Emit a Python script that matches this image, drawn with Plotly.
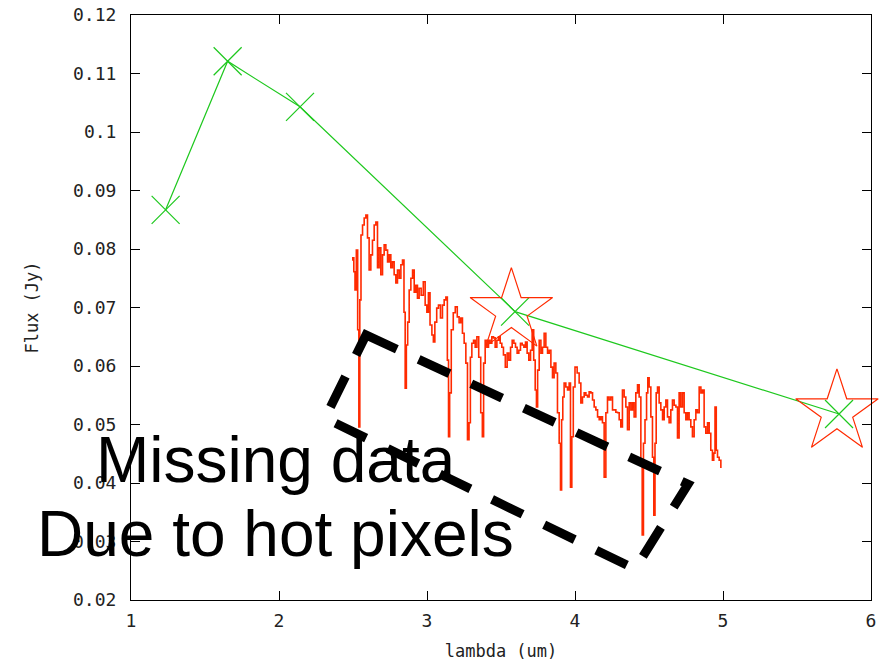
import plotly.graph_objects as go

# ---- data ----
phot_lambda = [1.234, 1.653, 2.142, 3.595, 5.784]
phot_flux = [0.0867, 0.1121, 0.1043, 0.0693, 0.0518]

irac_lambda = [3.57, 5.77]
irac_flux = [0.0694, 0.0521]

spec_lambda = [
    2.495, 2.502, 2.509, 2.518, 2.527, 2.536, 2.543, 2.549, 2.559, 2.570,
    2.581, 2.593, 2.603, 2.615, 2.626, 2.637, 2.649, 2.660, 2.671, 2.682,
    2.694, 2.705, 2.716, 2.728, 2.739, 2.750, 2.761, 2.772, 2.784, 2.795,
    2.806, 2.818, 2.829, 2.840, 2.849, 2.856, 2.865, 2.874, 2.885, 2.897,
    2.908, 2.919, 2.930, 2.941, 2.953, 2.968, 2.982, 2.993, 3.005, 3.014,
    3.027, 3.039, 3.047, 3.059, 3.072, 3.083, 3.099, 3.110, 3.122, 3.133,
    3.142, 3.149, 3.157, 3.171, 3.184, 3.198, 3.211, 3.223, 3.234, 3.245,
    3.257, 3.268, 3.279, 3.289, 3.297, 3.309, 3.320, 3.331, 3.343, 3.356,
    3.370, 3.378, 3.387, 3.399, 3.410, 3.421, 3.432, 3.444, 3.455, 3.466,
    3.478, 3.489, 3.500, 3.511, 3.522, 3.536, 3.547, 3.559, 3.570, 3.581,
    3.593, 3.603, 3.615, 3.626, 3.637, 3.649, 3.660, 3.671, 3.682, 3.694,
    3.705, 3.716, 3.726, 3.736, 3.743, 3.752, 3.764, 3.775, 3.786, 3.797,
    3.809, 3.820, 3.831, 3.843, 3.853, 3.865, 3.876, 3.887, 3.899, 3.905,
    3.914, 3.921, 3.932, 3.944, 3.955, 3.966, 3.973, 3.984, 3.993, 4.007,
    4.022, 4.034, 4.045, 4.056, 4.068, 4.079, 4.090, 4.101, 4.113, 4.124,
    4.135, 4.147, 4.158, 4.169, 4.180, 4.191, 4.203, 4.214, 4.225, 4.236,
    4.248, 4.259, 4.270, 4.282, 4.293, 4.304, 4.315, 4.326, 4.338, 4.349,
    4.360, 4.372, 4.383, 4.394, 4.405, 4.417, 4.428, 4.439, 4.451, 4.457,
    4.468, 4.478, 4.489, 4.495, 4.507, 4.518, 4.529, 4.536, 4.545, 4.552,
    4.563, 4.574, 4.586, 4.597, 4.608, 4.620, 4.630, 4.642, 4.653, 4.664,
    4.676, 4.687, 4.698, 4.709, 4.720, 4.732, 4.743, 4.755, 4.765, 4.777,
    4.788, 4.799, 4.811, 4.822, 4.833, 4.845, 4.856, 4.867, 4.878, 4.890,
    4.901, 4.912, 4.923, 4.934, 4.941, 4.951, 4.958, 4.968, 4.980, 4.991,
]
spec_flux = [
    0.0781, 0.0785, 0.0761, 0.0730, 0.0798, 0.0662, 0.0496, 0.0713, 0.0824, 0.0841,
    0.0853, 0.0858, 0.0819, 0.0764, 0.0790, 0.0815, 0.0841, 0.0846, 0.0768, 0.0802,
    0.0756, 0.0790, 0.0807, 0.0798, 0.0778, 0.0790, 0.0768, 0.0778, 0.0756, 0.0742,
    0.0764, 0.0750, 0.0773, 0.0781, 0.0692, 0.0562, 0.0636, 0.0675, 0.0730, 0.0750,
    0.0764, 0.0726, 0.0738, 0.0716, 0.0733, 0.0721, 0.0744, 0.0704, 0.0692, 0.0725,
    0.0670, 0.0653, 0.0641, 0.0675, 0.0699, 0.0704, 0.0682, 0.0704, 0.0713, 0.0718,
    0.0610, 0.0479, 0.0554, 0.0662, 0.0691, 0.0701, 0.0684, 0.0674, 0.0682, 0.0656,
    0.0639, 0.0605, 0.0474, 0.0503, 0.0615, 0.0639, 0.0644, 0.0632, 0.0650, 0.0615,
    0.0520, 0.0479, 0.0605, 0.0644, 0.0632, 0.0644, 0.0639, 0.0650, 0.0648, 0.0632,
    0.0644, 0.0650, 0.0639, 0.0632, 0.0619, 0.0598, 0.0622, 0.0610, 0.0632, 0.0644,
    0.0639, 0.0632, 0.0622, 0.0627, 0.0639, 0.0636, 0.0632, 0.0641, 0.0622, 0.0610,
    0.0627, 0.0662, 0.0610, 0.0559, 0.0530, 0.0593, 0.0644, 0.0622, 0.0632, 0.0656,
    0.0632, 0.0622, 0.0627, 0.0598, 0.0580, 0.0605, 0.0588, 0.0520, 0.0468, 0.0388,
    0.0508, 0.0547, 0.0571, 0.0564, 0.0559, 0.0571, 0.0393, 0.0479, 0.0564, 0.0598,
    0.0588, 0.0571, 0.0537, 0.0547, 0.0554, 0.0550, 0.0547, 0.0556, 0.0554, 0.0542,
    0.0530, 0.0525, 0.0513, 0.0508, 0.0513, 0.0503, 0.0410, 0.0520, 0.0547, 0.0542,
    0.0547, 0.0525, 0.0525, 0.0521, 0.0520, 0.0508, 0.0496, 0.0559, 0.0547, 0.0530,
    0.0491, 0.0537, 0.0525, 0.0537, 0.0513, 0.0554, 0.0568, 0.0547, 0.0439, 0.0311,
    0.0468, 0.0508, 0.0554, 0.0580, 0.0564, 0.0513, 0.0444, 0.0345, 0.0468, 0.0554,
    0.0564, 0.0537, 0.0525, 0.0508, 0.0530, 0.0542, 0.0513, 0.0503, 0.0525, 0.0542,
    0.0533, 0.0530, 0.0477, 0.0554, 0.0530, 0.0554, 0.0520, 0.0508, 0.0520, 0.0508,
    0.0496, 0.0479, 0.0508, 0.0525, 0.0520, 0.0564, 0.0554, 0.0559, 0.0496, 0.0485,
    0.0503, 0.0485, 0.0456, 0.0439, 0.0451, 0.0530, 0.0456, 0.0444, 0.0439, 0.0427,
]

# dashed box corners (lambda, flux)
box_lambda = [2.588, 4.764, 4.405, 2.311]
box_flux = [0.0653, 0.0398, 0.0253, 0.0511]

x_ticks = [1, 2, 3, 4, 5, 6]
y_ticks = [0.02, 0.03, 0.04, 0.05, 0.06, 0.07, 0.08, 0.09, 0.1, 0.11, 0.12]

note_lines = ["Missing data", "Due to hot pixels"]

RED = "#ff2a00"
GREEN = "#1ec81e"

fig = go.Figure()

fig.add_trace(go.Scatter(
    x=spec_lambda, y=spec_flux, mode="lines",
    line=dict(color=RED, width=1.6, shape="hvh"),
    hoverinfo="skip", showlegend=False,
))
fig.add_trace(go.Scatter(
    x=phot_lambda, y=phot_flux, mode="lines+markers",
    line=dict(color=GREEN, width=1.2),
    marker=dict(symbol="x-thin", size=28, line=dict(color=GREEN, width=1.2)),
    showlegend=False,
))
fig.add_trace(go.Scatter(
    x=irac_lambda, y=irac_flux, mode="markers", cliponaxis=False,
    marker=dict(symbol="star-open", size=62, color=RED, line=dict(color=RED, width=1.2)),
    showlegend=False,
))

path = "M {} {}".format(box_lambda[0], box_flux[0])
for bx, by in zip(box_lambda[1:], box_flux[1:]):
    path += " L {} {}".format(bx, by)
path += " Z"
fig.add_shape(type="path", path=path, xref="x", yref="y",
              line=dict(color="black", width=9, dash="34px,24px"),
              layer="above")

tick_font = dict(family="DejaVu Sans Mono", size=18, color="#222222")
title_font = dict(family="DejaVu Sans Mono", size=17, color="#222222")

fig.add_annotation(text=note_lines[0], xref="paper", yref="paper",
                   x=0.196, y=0.239, xanchor="center", yanchor="middle",
                   showarrow=False,
                   font=dict(family="Liberation Sans", size=64, color="black"))
fig.add_annotation(text=note_lines[1], xref="paper", yref="paper",
                   x=0.195, y=0.112, xanchor="center", yanchor="middle",
                   showarrow=False,
                   font=dict(family="Liberation Sans", size=64, color="black"))

fig.update_layout(
    width=882, height=661,
    margin=dict(l=131, r=11, t=15, b=61),
    paper_bgcolor="white", plot_bgcolor="white",
    xaxis=dict(
        range=[1, 6], tickvals=x_ticks, ticktext=[str(v) for v in x_ticks],
        ticks="inside", ticklen=9, tickcolor="black", tickwidth=1,
        showline=True, linecolor="black", linewidth=1, mirror="allticks",
        showgrid=False, zeroline=False, tickfont=tick_font, automargin=False,
        ticklabelstandoff=4,
        title=dict(text="lambda (um)", font=title_font, standoff=20),
    ),
    yaxis=dict(
        range=[0.02, 0.12], tickvals=y_ticks, ticktext=[f"{v:g}" for v in y_ticks],
        ticks="inside", ticklen=9, tickcolor="black", tickwidth=1,
        showline=True, linecolor="black", linewidth=1, mirror="allticks",
        showgrid=False, zeroline=False, tickfont=tick_font, automargin=False,
        ticklabelstandoff=10,
        title=dict(text="Flux (Jy)", font=title_font, standoff=30),
    ),
)

fig.write_html("out.html")
